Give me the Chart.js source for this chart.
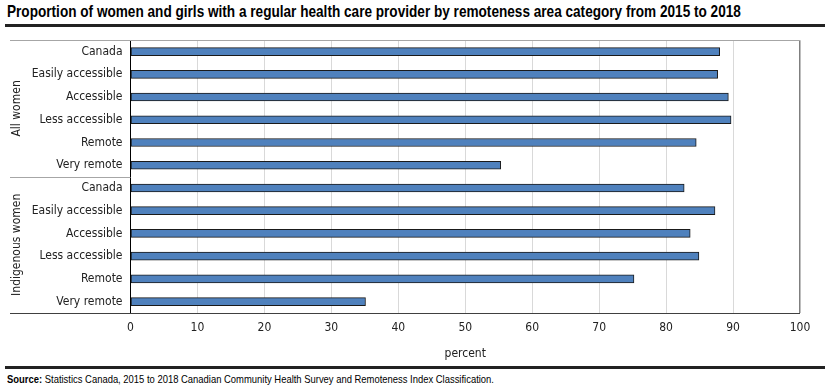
<!DOCTYPE html>
<html lang="en">
<head>
<meta charset="UTF-8" />
<title>Regular health care provider by remoteness</title>
<script src="https://cdn.jsdelivr.net/npm/chart.js@4.4.1/dist/chart.umd.min.js"></script>
<style>
  body { margin: 0; background: #fff; width: 830px; height: 389px; position: relative; overflow: hidden; }
  .narrow { font-family: 'Liberation Sans', Arial, sans-serif; transform-origin: 0 0; }
  #title { position: absolute; left: 7px; top: 2px; font-size: 17px; font-weight: bold; color: #000; white-space: nowrap; transform: scaleX(0.8); }
  .rule { position: absolute; left: 5px; width: 820px; height: 3px; background: #222; }
  #wrap { position: absolute; left: 0; top: 25px; width: 830px; height: 340px; }
  #source { position: absolute; left: 7px; top: 373px; font-size: 11.5px; color: #000; white-space: nowrap; transform: scaleX(0.82); }
</style>
</head>
<body>
<div id="title" class="narrow">Proportion of women and girls with a regular health care provider by remoteness area category from 2015 to 2018</div>
<div class="rule" style="top:24px"></div>
<div id="wrap"><canvas id="chart"></canvas></div>
<div class="rule" style="top:366px"></div>
<div id="source" class="narrow"><b>Source:</b> Statistics Canada, 2015 to 2018 Canadian Community Health Survey and Remoteness Index Classification.</div>
<script>
const FONT = "'DejaVu Sans Condensed', sans-serif";

const areas = ["Canada", "Easily accessible", "Accessible", "Less accessible", "Remote", "Very remote"];
const groups = ["All women", "Indigenous women"];
const allWomen = [88.0, 87.7, 89.3, 89.7, 84.5, 55.3];
const indigenousWomen = [82.7, 87.3, 83.6, 84.9, 75.2, 35.1];
const xTicks = [0, 10, 20, 30, 40, 50, 60, 70, 80, 90, 100];

const labels = areas.concat(areas);
const values = allWomen.concat(indigenousWomen);

// group labels on the left + separator lines
const groupPlugin = {
  id: "groups",
  afterDraw(chart) {
    const { ctx, chartArea, scales: { y } } = chart;
    const mid = (y.getPixelForValue(areas.length - 1) + y.getPixelForValue(areas.length)) / 2;
    ctx.save();
    ctx.lineWidth = 1;
    ctx.strokeStyle = "#a6a6a6";
    ctx.beginPath();
    ctx.moveTo(10, Math.round(chartArea.top) + 0.5);
    ctx.lineTo(chartArea.right, Math.round(chartArea.top) + 0.5);
    ctx.moveTo(10, Math.round(mid) + 0.5);
    ctx.lineTo(chartArea.left, Math.round(mid) + 0.5);
    ctx.stroke();
    ctx.strokeStyle = "#404040";
    ctx.beginPath();
    ctx.moveTo(10, Math.round(chartArea.bottom) + 0.5);
    ctx.lineTo(chartArea.right, Math.round(chartArea.bottom) + 0.5);
    ctx.stroke();

    ctx.fillStyle = "#222";
    ctx.font = "12px " + FONT;
    ctx.textAlign = "center";
    ctx.textBaseline = "middle";
    const centers = [(chartArea.top + mid) / 2, (mid + chartArea.bottom) / 2];
    groups.forEach((g, i) => {
      ctx.save();
      ctx.translate(17, centers[i]);
      ctx.rotate(-Math.PI / 2);
      ctx.fillText(g, 0, 0);
      ctx.restore();
    });
    ctx.restore();
  }
};

new Chart(document.getElementById("chart"), {
  type: "bar",
  data: {
    labels: labels,
    datasets: [{
      data: values,
      backgroundColor: "#4f81bd",
      borderColor: "#1a1a1a",
      borderWidth: 1,
      borderSkipped: false,
      barThickness: 8
    }]
  },
  options: {
    indexAxis: "y",
    responsive: true,
    maintainAspectRatio: false,
    animation: false,
    layout: { padding: { top: 0, right: 30, left: 0, bottom: 0 } },
    plugins: { legend: { display: false }, tooltip: { enabled: false } },
    scales: {
      x: {
        min: 0,
        max: 100,
        afterBuildTicks: (s) => { s.ticks = xTicks.map(v => ({ value: v })); },
        afterFit: (s) => { s.height = 52; },
        grid: {
          color: (c) => c.tick && c.tick.value === 100 ? "#7f7f7f" : "#d9d9d9",
          lineWidth: (c) => c.tick && c.tick.value === 100 ? 1.5 : 1,
          drawTicks: false
        },
        border: { display: false },
        ticks: { padding: 8, color: "#222", font: { family: FONT, size: 12 } },
        title: { display: true, text: "percent", color: "#222", padding: { top: 0, bottom: 4 }, font: { family: FONT, size: 12 } }
      },
      y: {
        afterFit: (s) => { s.width = 130.5; },
        grid: { display: false, drawTicks: false },
        border: { display: true, color: "#000", width: 1 },
        ticks: { padding: 8, color: "#222", font: { family: FONT, size: 12 } }
      }
    }
  },
  plugins: [groupPlugin]
});
</script>
</body>
</html>
